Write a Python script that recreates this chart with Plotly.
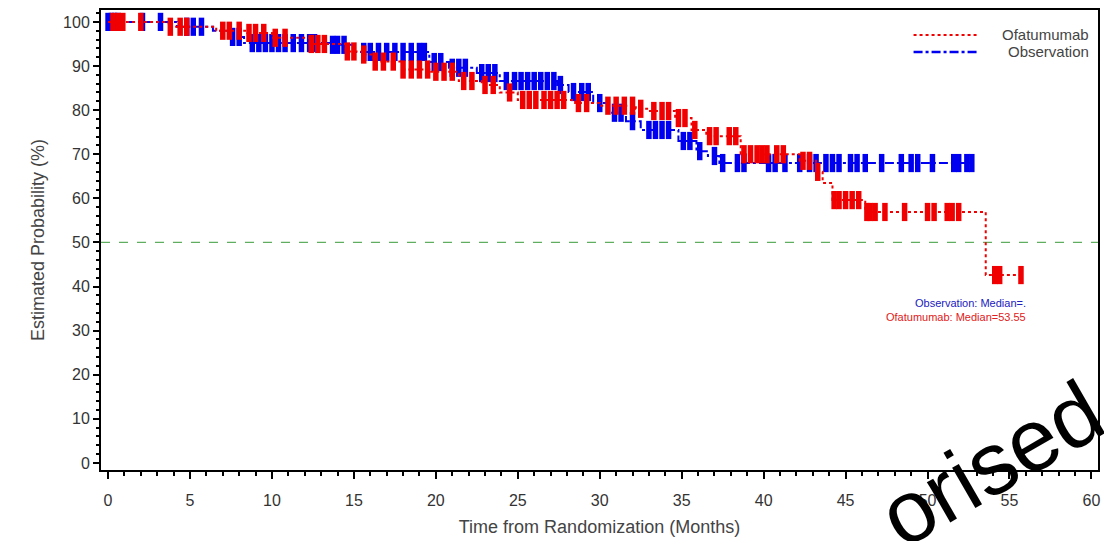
import numpy as np
import plotly.graph_objects as go

# ---- Data ----
# Ofatumumab KM step function: event times (months) and survival after the step (%)
ofa_times = [0, 3.7, 6.6, 8.5, 10.0, 12.3, 14.5, 15.5, 16.2, 18.0, 19.6, 21.4, 22.8, 23.9, 25.0,
             28.5, 30.0, 32.2, 33.0, 34.6, 35.6, 36.5, 38.6, 42.2, 43.2, 43.6, 44.2, 46.2, 53.55]
ofa_surv = [100, 98.9, 98.0, 97.5, 96.4, 95.0, 93.3, 92.6, 91.0, 89.2, 88.7, 86.6, 85.7, 84.0, 82.3,
            81.6, 81.0, 80.3, 79.8, 78.2, 75.5, 74.1, 70.0, 68.5, 66.0, 63.5, 59.6, 56.9, 42.6]
ofa_end = 55.7
ofa_censor = [0.3, 0.6, 0.9, 2.0, 3.8, 4.4, 4.8, 7.0, 7.4, 8.0, 8.6, 9.0, 9.5, 10.2, 10.8,
              12.4, 12.8, 13.2, 14.6, 15.0, 15.6, 16.3, 16.8, 17.4, 18.0, 18.5, 19.0, 19.5,
              20.0, 20.5, 21.0, 21.7, 22.2, 23.0, 23.5, 24.5, 25.3, 25.7, 26.1, 26.6, 27.0,
              27.4, 27.8, 28.7, 29.2, 30.5, 31.0, 31.5, 32.0, 32.5, 33.3, 33.8, 34.2, 34.8,
              35.2, 35.8, 36.7, 37.1, 37.9, 38.3, 38.8, 39.2, 39.6, 39.9, 40.2, 40.8, 41.2,
              42.4, 42.8, 43.3, 44.3, 44.6, 45.0, 45.4, 45.8, 46.3, 46.5, 46.8, 47.4, 48.6,
              50.0, 50.4, 51.2, 51.5, 51.9, 54.1, 54.4, 55.7]

# Observation KM step function
obs_times = [0, 4.2, 6.4, 7.4, 8.3, 13.5, 15.0, 19.6, 20.8, 22.5, 23.9, 27.4, 28.1, 29.6,
             30.5, 31.6, 32.5, 34.8, 35.9, 36.6, 37.3]
obs_surv = [100, 98.9, 98.0, 96.6, 95.2, 94.8, 93.2, 90.9, 89.6, 88.4, 86.6, 85.7, 84.1, 81.6,
            79.4, 77.5, 75.5, 73.0, 70.7, 69.6, 68.0]
obs_end = 52.7
obs_censor = [0.0, 0.2, 0.4, 0.6, 2.1, 3.2, 4.8, 5.2, 5.7, 7.6, 8.0, 8.8, 9.2, 9.6, 10.0,
              10.4, 10.8, 11.3, 11.8, 12.3, 12.6, 13.7, 14.0, 14.4, 15.6, 16.0, 16.5, 17.0,
              17.5, 18.0, 18.5, 19.0, 19.3, 19.9, 20.3, 21.0, 21.4, 21.8, 22.8, 23.2, 23.6,
              24.3, 24.8, 25.2, 25.6, 26.0, 26.4, 26.8, 27.2, 27.6, 28.4, 28.9, 29.3, 30.0,
              30.9, 31.3, 32.0, 33.0, 33.4, 33.8, 34.2, 35.1, 35.5, 36.1, 37.0, 37.5, 38.4,
              38.8, 40.3, 40.7, 41.3, 42.2, 42.8, 43.2, 43.8, 44.2, 44.6, 45.3, 45.7, 46.2,
              47.2, 48.4, 49.0, 49.4, 50.3, 51.6, 51.9, 52.4, 52.7]

x_ticks = [0, 5, 10, 15, 20, 25, 30, 35, 40, 45, 50, 55, 60]
y_ticks = [0, 10, 20, 30, 40, 50, 60, 70, 80, 90, 100]
median_line = 50

RED = "#f00000"
BLUE = "#0000f0"


def step_xy(times, surv, end):
    xs = list(times) + [end]
    ys = list(surv) + [surv[-1]]
    return xs, ys


def surv_at(times, surv, t):
    idx = np.searchsorted(np.array(times), np.array(t), side="right") - 1
    return np.array(surv)[idx]


fig = go.Figure()

ox, oy = step_xy(ofa_times, ofa_surv, ofa_end)
bx, by = step_xy(obs_times, obs_surv, obs_end)

fig.add_trace(go.Scatter(x=bx, y=by, mode="lines", line=dict(color=BLUE, width=2, dash="dashdot", shape="hv"),
                         name="Observation", showlegend=False))
fig.add_trace(go.Scatter(x=obs_censor, y=surv_at(obs_times, obs_surv, obs_censor), mode="markers",
                         marker=dict(symbol="line-ns", size=13, line=dict(color=BLUE, width=5.5)),
                         showlegend=False))
fig.add_trace(go.Scatter(x=ox, y=oy, mode="lines", line=dict(color=RED, width=2, dash="dot", shape="hv"),
                         name="Ofatumumab", showlegend=False))
fig.add_trace(go.Scatter(x=ofa_censor, y=surv_at(ofa_times, ofa_surv, ofa_censor), mode="markers",
                         marker=dict(symbol="line-ns", size=13, line=dict(color=RED, width=5.5)),
                         showlegend=False))

# reference line at 50%
fig.add_shape(type="line", xref="paper", x0=0, x1=1, yref="y", y0=median_line, y1=median_line,
              line=dict(color="#5fae5f", width=1.2, dash="dash"), layer="below")

# manual legend
fig.add_shape(type="line", xref="paper", yref="paper", x0=0.815, x1=0.88, y0=0.9457, y1=0.9457,
              line=dict(color=RED, width=2, dash="dot"))
fig.add_shape(type="line", xref="paper", yref="paper", x0=0.815, x1=0.88, y0=0.9087, y1=0.9087,
              line=dict(color=BLUE, width=2.5, dash="dashdot"))
fig.add_annotation(xref="paper", yref="paper", x=0.993, y=0.9457, text="Ofatumumab", showarrow=False,
                   xanchor="right", yanchor="middle", font=dict(size=15, color="#444444"))
fig.add_annotation(xref="paper", yref="paper", x=0.993, y=0.9087, text="Observation", showarrow=False,
                   xanchor="right", yanchor="middle", font=dict(size=15, color="#444444"))

# median annotations
fig.add_annotation(xref="paper", yref="paper", x=0.93, y=0.363, text="Observation: Median=.",
                   showarrow=False, xanchor="right", yanchor="middle", font=dict(size=11, color="#2020c0"))
fig.add_annotation(xref="paper", yref="paper", x=0.93, y=0.3326, text="Ofatumumab: Median=53.55",
                   showarrow=False, xanchor="right", yanchor="middle", font=dict(size=11, color="#e02020"))

# watermark fragment
fig.add_annotation(xref="paper", yref="paper", x=0.893, y=0.015, text="orised", showarrow=False,
                   textangle=-30, font=dict(size=88, color="#000000", family="Liberation Sans, Arial"),
                   xanchor="center", yanchor="middle")

fig.update_layout(
    width=1104, height=541,
    margin=dict(l=101, r=4, t=10, b=71),
    paper_bgcolor="white", plot_bgcolor="white",
    font=dict(family="Liberation Sans, Arial, sans-serif", size=16, color="#333333"),
    showlegend=False,
)
fig.update_xaxes(
    range=[-0.43, 60.4], tickvals=x_ticks, ticks="outside", ticklen=7, tickwidth=1.5, tickcolor="black",
    minor=dict(dtick=1, ticks="outside", ticklen=4, tickcolor="black"),
    showline=True, linecolor="black", linewidth=2, mirror=True, showgrid=False, zeroline=False,
    ticklabelstandoff=8,
    title=dict(text="Time from Randomization (Months)", font=dict(size=18, color="#444444"), standoff=12),
)
fig.update_yaxes(
    range=[-1.6, 102.7], tickvals=y_ticks, ticks="outside", ticklen=6, tickwidth=1.5, tickcolor="black",
    minor=dict(dtick=2, ticks="outside", ticklen=3, tickcolor="black"),
    showline=True, linecolor="black", linewidth=2, mirror=True, showgrid=False, zeroline=False,
    title=dict(text="Estimated Probability (%)", font=dict(size=18, color="#444444"), standoff=14),
)

fig.write_html("out.html")
